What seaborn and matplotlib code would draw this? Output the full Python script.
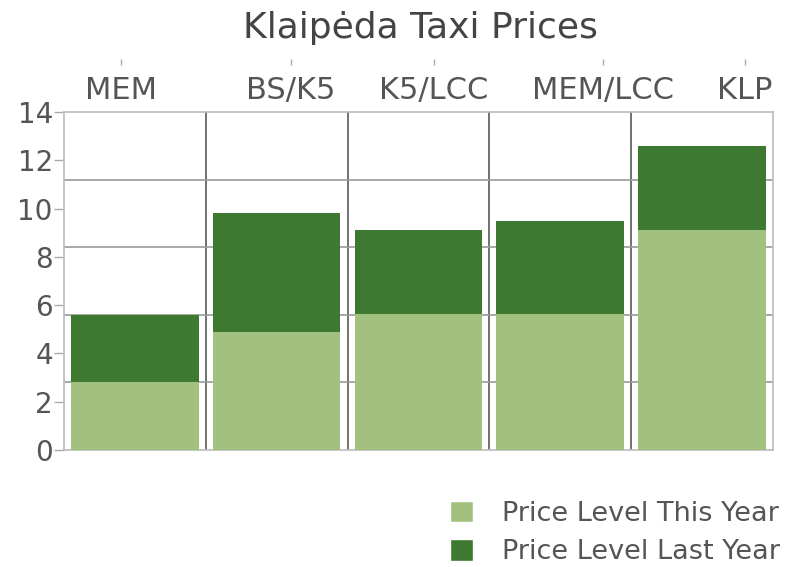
import numpy as np
import pandas as pd
import matplotlib.pyplot as plt
import seaborn as sns
from matplotlib.patches import Patch

# data
routes = ["MEM", "BS/K5", "K5/LCC", "MEM/LCC", "KLP"]
this_year = [2.8, 4.9, 5.65, 5.65, 9.1]
last_year = [2.8, 4.9, 3.45, 3.85, 3.5]   # stacked on top of this year

df = pd.DataFrame({"route": routes, "this_year": this_year, "last_year": last_year})
df["total"] = df["this_year"] + df["last_year"]

light = "#a2c07e"
dark = "#3e7932"
text_col = "#555555"

sns.set_theme(style="white")
plt.rcParams["font.family"] = ["DejaVu Sans"]

fig = plt.figure(figsize=(7.85, 5.67), dpi=100)
ax = fig.add_axes([0.0815, 0.2063, 0.9032, 0.5962])

sns.barplot(data=df, x="route", y="total", color=dark, width=0.9,
            saturation=1, linewidth=0, ax=ax, zorder=2)
sns.barplot(data=df, x="route", y="this_year", color=light, width=0.9,
            saturation=1, linewidth=0, ax=ax, zorder=3)

ax.set_xlim(-0.5, len(routes) - 0.5)
ax.set_ylim(0, 14)
ax.set_xlabel("")
ax.set_ylabel("")

# y axis: labels every 2, grid lines at fifths of the range
ax.set_yticks(np.arange(0, 15, 2))
ax.set_yticks(np.linspace(0, 14, 6)[1:-1], minor=True)
ax.tick_params(axis="y", which="major", left=True, length=7, width=1,
               color="#aaaaaa", labelsize=20, labelcolor=text_col, pad=1)
ax.tick_params(axis="y", which="minor", left=False, length=0)
ax.yaxis.grid(True, which="minor", color="#999999", lw=1.2)

# vertical lines between categories
ax.set_xticks(np.arange(len(routes) - 1) + 0.5, minor=True)
ax.xaxis.grid(True, which="minor", color="#666666", lw=1.3)
ax.set_axisbelow(True)

# category labels on top, shifted like the reference
label_shift = [-0.10, 0.10, 0.11, 0.30, 0.30]
pos = np.arange(len(routes)) + np.array(label_shift)
ax.set_xticks(pos)
ax.set_xticklabels(routes)
ax.xaxis.tick_top()
ax.tick_params(axis="x", which="major", top=False, bottom=False, length=0,
               labelsize=22, labelcolor=text_col, pad=5)
ax.tick_params(axis="x", which="minor", top=False, bottom=False, length=0)

sec = ax.secondary_xaxis(1.14)
sec.set_xticks(pos)
sec.set_xticklabels([])
sec.tick_params(length=4, width=1, color="#aaaaaa", direction="out")
sec.spines["top"].set_visible(False)

for side in ["left", "right", "top", "bottom"]:
    ax.spines[side].set_visible(True)
    ax.spines[side].set_color("#bbbbbb")
    ax.spines[side].set_linewidth(1.2)

fig.text(0.535, 0.951, "Klaipėda Taxi Prices", ha="center", va="center",
         fontsize=26, color="#444444")

handles = [Patch(facecolor=light, label="Price Level This Year"),
           Patch(facecolor=dark, label="Price Level Last Year")]
fig.legend(handles=handles, loc="upper right", bbox_to_anchor=(0.993, 0.117),
           frameon=False, fontsize=19.5, labelcolor=text_col,
           borderpad=0, borderaxespad=0,
           handlelength=0.85, handleheight=0.85, handletextpad=1.05,
           labelspacing=0.45)

plt.savefig("out.png", dpi=100)
